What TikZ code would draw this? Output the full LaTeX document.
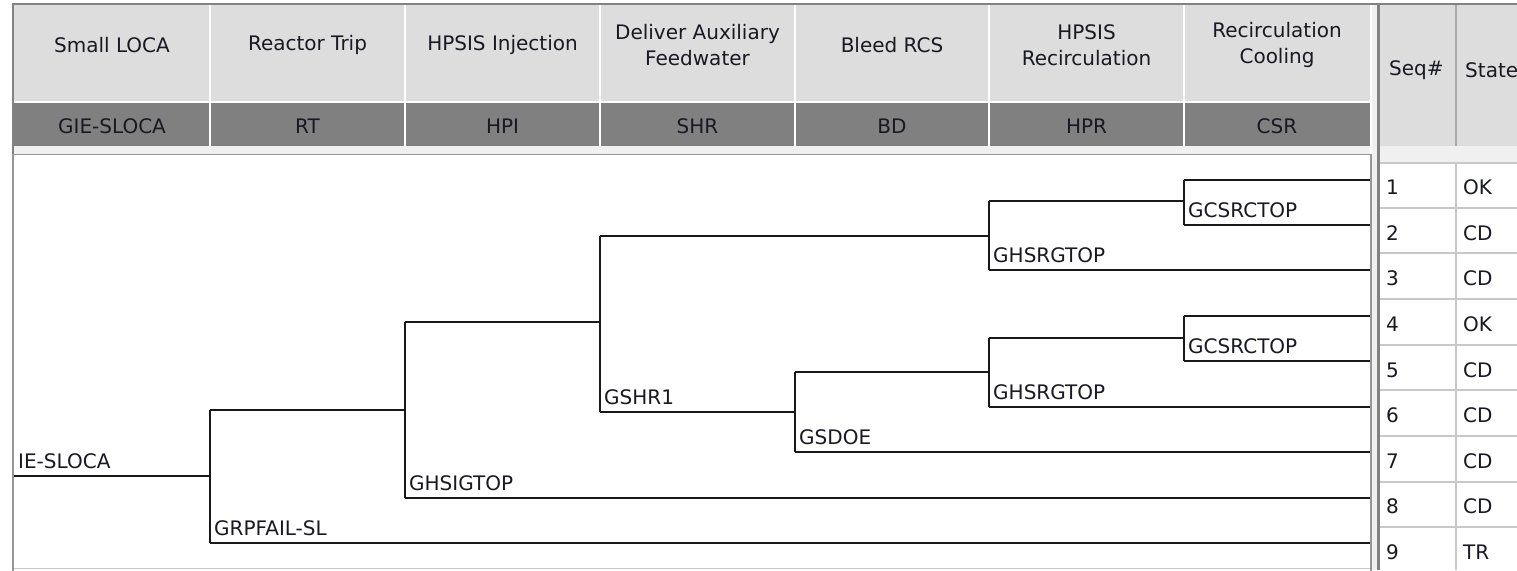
\documentclass[tikz,border=0pt]{standalone}
\usepackage{fontspec}
\setmainfont{DejaVu Sans}
\definecolor{hlight}{RGB}{221,221,221}
\definecolor{hdark}{RGB}{128,128,128}
\definecolor{frame}{RGB}{130,130,130}
\definecolor{tframe}{RGB}{150,150,150}
\definecolor{strip}{RGB}{240,240,240}
\definecolor{rowline}{RGB}{200,200,200}
\definecolor{sepline}{RGB}{170,170,170}
\definecolor{txt}{RGB}{25,25,35}
\begin{document}
\begin{tikzpicture}[x=1pt,y=-1pt,
  ft/.style={font=\fontsize{20}{25.5}\selectfont, text=txt},
  hdr/.style={ft, align=center, inner sep=0pt},
  lbl/.style={ft, anchor=base west, inner sep=0pt},
  cell/.style={ft, anchor=west, inner sep=0pt},
  br/.style={line width=1.7pt, black!90}
]
\useasboundingbox (0,0) rectangle (1517,570);
\fill[white] (0,0) rectangle (1517,570);
% ---------- header of tree panel
\fill[hlight] (14,5) rectangle (1370,101);
\fill[hdark] (14,102.5) rectangle (1370,146);
\fill[strip] (14,146) rectangle (1370,154);
\foreach \x in {210,405,600,795,989,1184}
  \draw[white, line width=1.5pt] (\x,5) -- (\x,146);
\draw[white, line width=1.5pt] (14,101.5) -- (1370,101.5);
% top and left frame
\draw[frame, line width=2pt] (12,4) -- (1517,4);
\draw[frame, line width=2pt] (13,4) -- (13,570);
% header texts
\node[hdr] (h1) at (112,45) {Small LOCA};
\node[hdr] (h2) at (307.5,45) {Reactor Trip};
\node[hdr] (h3) at (502.5,45) {HPSIS Injection};
\node[hdr] (h4) at (697.5,45) {Deliver Auxiliary\\Feedwater};
\node[hdr] (h5) at (892,45) {Bleed RCS};
\node[hdr] (h6) at (1086.5,45) {HPSIS\\Recirculation};
\node[hdr] (h7) at (1277,45) {Recirculation\\Cooling};
\node[hdr] (c1) at (112,126) {GIE-SLOCA};
\node[hdr] (c2) at (307.5,126) {RT};
\node[hdr] (c3) at (502.5,126) {HPI};
\node[hdr] (c4) at (697.5,126) {SHR};
\node[hdr] (c5) at (892,126) {BD};
\node[hdr] (c6) at (1086.5,126) {HPR};
\node[hdr] (c7) at (1277,126) {CSR};
% ---------- tree panel
\draw[tframe, line width=1.5pt, fill=white] (13,154.5) rectangle (1371,580);
\draw[rowline, line width=1pt] (14,568) -- (1370,568);
% splitter
\fill[strip] (1372,5) rectangle (1377,570);
\draw[frame, line width=2.5pt] (1378.5,4) -- (1378.5,570);
% ---------- right panel
\fill[hlight] (1380,5) rectangle (1517,146);
\draw[sepline, line width=1.5pt] (1456,5) -- (1456,146);
\fill[strip] (1380,146) rectangle (1517,163);
\foreach \y in {163,208,253,299,345,390,436,482,527}
  \draw[rowline, line width=1.5pt] (1380,\y) -- (1517,\y);
\draw[rowline, line width=1.5pt] (1456,163) -- (1456,570);
\node[ft, anchor=west, inner sep=0pt] (seq) at (1389,70) {Seq\#};
\node[ft, anchor=west, inner sep=0pt] (state) at (1465,70) {State};
\foreach \i/\s [count=\k from 0] in {1/OK,2/CD,3/CD,4/OK,5/CD,6/CD,7/CD,8/CD,9/TR}{
  \node[cell] (n\i) at (1386,187.5+45.6*\k) {\i};
  \node[cell] (s\i) at (1463,187.5+45.6*\k) {\s};
}
% ---------- event tree
\coordinate (ie) at (14,476);
\coordinate (j1) at (210,476);  \coordinate (j1u) at (210,410); \coordinate (j1d) at (210,543);
\coordinate (j2) at (405,410);  \coordinate (j2u) at (405,322); \coordinate (j2d) at (405,498);
\coordinate (j3) at (600,322);  \coordinate (j3u) at (600,236); \coordinate (j3d) at (600,412);
\coordinate (j4) at (989,236);  \coordinate (j4u) at (989,201); \coordinate (j4d) at (989,270);
\coordinate (j5) at (1184,201); \coordinate (j5u) at (1184,180); \coordinate (j5d) at (1184,225);
\coordinate (j6) at (795,412);  \coordinate (j6u) at (795,372); \coordinate (j6d) at (795,452);
\coordinate (j7) at (989,372);  \coordinate (j7u) at (989,338); \coordinate (j7d) at (989,407);
\coordinate (j8) at (1184,338); \coordinate (j8u) at (1184,316); \coordinate (j8d) at (1184,361);
\foreach \i/\y in {1/180,2/225,3/270,4/316,5/361,6/407,7/452,8/498,9/543}
  \coordinate (e\i) at (1370,\y);
\draw[br] (ie) -- (j1);
\draw[br] (j1u) -- (j1d);
\draw[br] (j1u) -- (j2); \draw[br] (j1d) -- (e9);
\draw[br] (j2u) -- (j2d);
\draw[br] (j2u) -- (j3); \draw[br] (j2d) -- (e8);
\draw[br] (j3u) -- (j3d);
\draw[br] (j3u) -- (j4); \draw[br] (j3d) -- (j6);
\draw[br] (j4u) -- (j4d);
\draw[br] (j4u) -- (j5); \draw[br] (j4d) -- (e3);
\draw[br] (j5u) -- (j5d);
\draw[br] (j5u) -- (e1); \draw[br] (j5d) -- (e2);
\draw[br] (j6u) -- (j6d);
\draw[br] (j6u) -- (j7); \draw[br] (j6d) -- (e7);
\draw[br] (j7u) -- (j7d);
\draw[br] (j7u) -- (j8); \draw[br] (j7d) -- (e6);
\draw[br] (j8u) -- (j8d);
\draw[br] (j8u) -- (e4); \draw[br] (j8d) -- (e5);
% branch labels
\node[lbl] (l0) at (18,468) {IE-SLOCA};
\node[lbl] (l1) at (214,535) {GRPFAIL-SL};
\node[lbl] (l2) at (409,490) {GHSIGTOP};
\node[lbl] (l3) at (604,404) {GSHR1};
\node[lbl] (l4) at (799,444) {GSDOE};
\node[lbl] (l5) at (993,262) {GHSRGTOP};
\node[lbl] (l6) at (1188,217) {GCSRCTOP};
\node[lbl] (l7) at (993,399) {GHSRGTOP};
\node[lbl] (l8) at (1188,353) {GCSRCTOP};
\end{tikzpicture}
\end{document}
